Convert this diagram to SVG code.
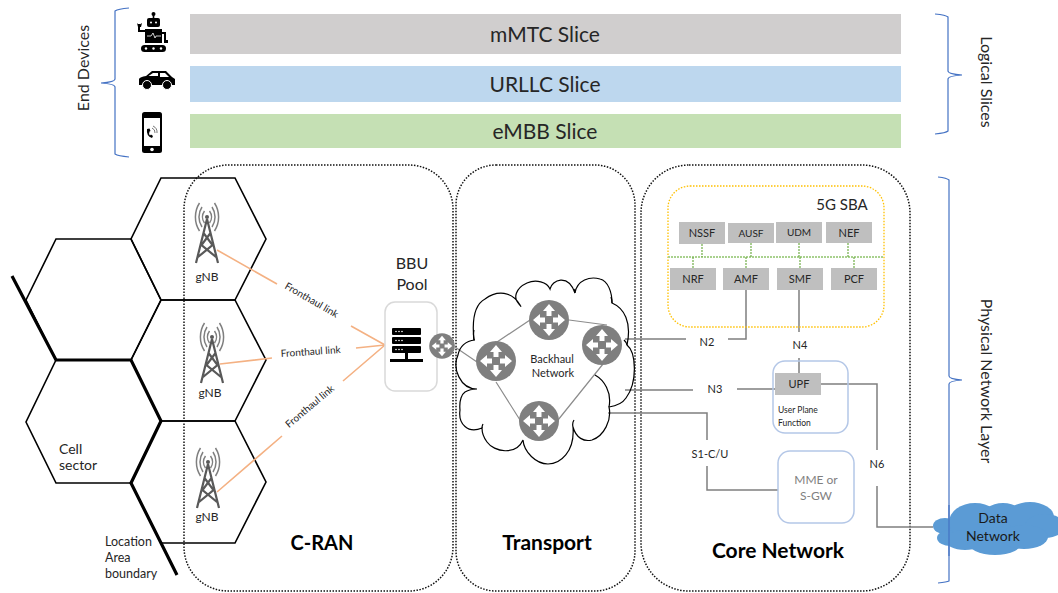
<svg xmlns="http://www.w3.org/2000/svg" width="1058" height="593" viewBox="0 0 1058 593">
<style>
text{font-family:Lato,"Open Sans","Liberation Sans",sans-serif;fill:#262626;text-anchor:middle}
.hex{fill:none;stroke:#000;stroke-width:1.600}
.pillar{fill:none;stroke:#111;stroke-width:1.500;stroke-dasharray:1.500 1.500}
.brace{fill:none;stroke:#4472C4;stroke-width:1.200}
.link{fill:none;stroke:#7f7f7f;stroke-width:1.500}
.thin{fill:none;stroke:#8c8c8c;stroke-width:1.200}
.fh{fill:none;stroke:#F4B183;stroke-width:1.600}
.bus{fill:none;stroke:#70AD47;stroke-width:1.200;stroke-dasharray:2 1}
.nf{fill:#BFBFBF}
.s11{font-size:11px}.s12{font-size:12px}.s14{font-size:14px}.s16{font-size:16px}.s21{font-size:21px}
.b{font-weight:700;fill:#000;font-size:21px}
.ant{fill:none;stroke:#7f7f7f;stroke-width:1.500}
.cell{text-anchor:start;font-size:12.500px}
</style>
<defs>
<g id="router">
<circle r="20" fill="#7f7f7f"/>
<path fill="#fff" d="M0-16 6-9H2.500V-4H-2.500V-9H-6ZM0 16 6 9H2.500V4H-2.500V9H-6ZM-16 0-9-6V-2.500H-4V2.500H-9V6ZM16 0 9-6V-2.500H4V2.500H9V6Z"/>
</g>
<g id="tower">
<circle cx="0" cy="0" r="2" fill="#595959"/>
<path class="ant" d="M-2.500-6A10 10 0 0 0-2.500 6M2.500-6A10 10 0 0 1 2.500 6M-5-10A18 18 0 0 0-5 10M5-10A18 18 0 0 1 5 10M-7.500-14A26 26 0 0 0-7.500 14M7.500-14A26 26 0 0 1 7.500 14"/>
<path fill="none" stroke="#595959" stroke-width="2.200" d="M0 2-11 46M0 2 11 46M-3.500 16 5.500 28-9 40M3.500 16-5.500 28 9 40"/>
</g>
</defs>

<g id="slices">
<g id="mmtc"><rect x="190" y="14" width="711" height="40" fill="#D0CECE"/><text class="s21" x="545" y="42">mMTC Slice</text></g>
<g id="urllc"><rect x="190" y="66" width="711" height="36" fill="#BDD7EE"/><text class="s21" x="545" y="92">URLLC Slice</text></g>
<g id="embb"><rect x="190" y="114" width="711" height="34" fill="#C5E0B4"/><text class="s21" x="545" y="139">eMBB Slice</text></g>
</g>

<g id="end-devices">
<path class="brace" d="M129 8Q118 9 115 11V79Q115 82 101 83Q115 84 115 87V154Q118 156 129 157"/>
<text class="s16" transform="translate(89 68) rotate(-90)">End Devices</text>
<g id="robot" fill="#000">
<circle cx="153.500" cy="14" r="2"/><rect x="152.700" y="14" width="1.600" height="5"/>
<rect x="147" y="18" width="13" height="9" rx="2"/>
<rect x="145" y="29" width="17" height="14"/>
<path d="M138 24h2v6h5v2h-7z"/><path d="M137 23l2 2 3-2-1 4h-3z"/>
<path d="M162 32h4v8h2v3h-4v-3h0v-6h-2z"/>
<rect x="141" y="45" width="25" height="7" rx="3.500"/>
<g fill="#fff"><circle cx="151" cy="22.500" r="1"/><circle cx="156" cy="22.500" r="1"/><circle cx="146" cy="48.500" r="1.200"/><circle cx="153.500" cy="48.500" r="1.200"/><circle cx="161" cy="48.500" r="1.200"/></g>
<path d="M147 36h4l2-3 2 5 1-2h5" fill="none" stroke="#fff" stroke-width=".8"/>
</g>
<g id="car">
<path fill="#000" d="M139 85V79Q140 77 146 76L152 71H166L172 77 175 79V85Z"/>
<path fill="#fff" d="M148.500 76 153 73H158V76ZM160 73H165L169 77H160Z"/>
<circle cx="147" cy="85" r="4.500" fill="#000" stroke="#fff" stroke-width="1"/><circle cx="167" cy="85" r="4.500" fill="#000" stroke="#fff" stroke-width="1"/>
</g>
<g id="phone">
<rect x="142" y="112" width="20" height="41" rx="2.500" fill="#000"/>
<rect x="144" y="118" width="16" height="28" fill="#fff"/>
<circle cx="152" cy="149.500" r="1.800" fill="#fff"/>
<path d="M147 129Q146 136 152 138L153 136 151 134.500 150 135.500Q148.500 133.500 149.500 131.500L150.500 131 149.500 128.500Z" fill="#000"/>
<path d="M152 128A5 5 0 0 1 155 133M153 126A7 7 0 0 1 157 133" fill="none" stroke="#555" stroke-width=".8"/>
</g>
</g>

<g id="logical-slices">
<path class="brace" d="M935 14Q946 15 948 17V71Q948 74 962 75Q948 76 948 79V131Q946 133 935 134"/>
<text class="s16" transform="translate(981 82) rotate(90)">Logical Slices</text>
</g>
<g id="physical-layer">
<path class="brace" d="M938 177Q947 178 949 180V376Q949 379 962 380Q949 381 949 384V581Q947 582 938 583"/>
<text class="s16" transform="translate(981 381) rotate(90)">Physical Network Layer</text>
</g>

<g id="cells">
<path class="hex" d="M161 178H235L266 239 235 300H161L131 239Z"/>
<path class="hex" d="M56 239H131L161 300 131 360H56L26 300Z"/>
<path class="hex" d="M161 300H235L266 360 235 421H161L131 360Z"/>
<path class="hex" d="M56 360H131L161 421 131 483H56L26 422Z"/>
<path class="hex" d="M161 421H235L266 482 235 543H161L131 483Z"/>
<path fill="none" stroke="#000" stroke-width="3.200" d="M12 276 56 360H131L161 421 131 483 177 575"/>
<text class="s14" x="59" y="454" style="text-anchor:start">Cell</text>
<text class="s14" x="59" y="470" style="text-anchor:start">sector</text>
<text class="cell" x="105" y="546">Location</text>
<text class="cell" x="105" y="562">Area</text>
<text class="cell" x="105" y="578">boundary</text>
</g>

<g id="pillars">
<rect id="cran-box" class="pillar" x="184" y="165" width="269" height="426" rx="44"/>
<rect id="transport-box" class="pillar" x="456" y="165" width="179" height="426" rx="40"/>
<rect id="core-box" class="pillar" x="641" y="165" width="269" height="426" rx="48"/>
<text class="b" x="322" y="550" style="font-size:20px">C-RAN</text>
<text class="b" x="547" y="550">Transport</text>
<text class="b" x="778" y="558">Core Network</text>
</g>

<g id="connectors">
<path class="fh" d="M217 250 277 284M351 326 385 345M220 364 272 358M356 348 385 345M217 492 282 436M343 381 385 345"/>
<path class="thin" d="M455 347 477 362M497 342 530 320M569 320 607 325M496 382 520 420M558 420 603 364"/>
<path class="link" d="M625 339H686M728 339H746V290"/>
<path class="link" d="M799 290V332M799 358V373"/>
<path class="link" d="M625 390H693M737 389H775"/>
<path class="link" d="M608 413H707V440M707 466V490H778"/>
<path class="link" d="M821 384H877V450M877 486V527H933"/>
</g>

<g id="fh-labels">
<text transform="translate(310 303) rotate(30)" style="font-size:10px">Fronthaul link</text>
<text transform="translate(311 355) rotate(-4)" style="font-size:10px">Fronthaul link</text>
<text transform="translate(312 409) rotate(-40)" style="font-size:10px">Fronthaul link</text>
</g>

<g id="gnb-1"><use href="#tower" x="207" y="217"/><text class="s12" x="207" y="281">gNB</text></g>
<g id="gnb-2"><use href="#tower" x="212" y="337"/><text class="s12" x="210" y="397">gNB</text></g>
<g id="gnb-3"><use href="#tower" x="208" y="462"/><text class="s12" x="207" y="521">gNB</text></g>

<g id="bbu-pool">
<text class="s16" x="412" y="269">BBU</text>
<text class="s16" x="412" y="290">Pool</text>
<rect x="385" y="302" width="52" height="89" rx="10" fill="#fff" stroke="#D9D9D9" stroke-width="1.500"/>
<g fill="#000">
<rect x="392" y="328" width="29" height="7" rx="1"/><rect x="392" y="337" width="29" height="7" rx="1"/><rect x="392" y="346" width="29" height="7" rx="1"/>
<rect x="405" y="353" width="3" height="6"/><rect x="390" y="359" width="33" height="3"/>
</g>
<g fill="#fff"><circle cx="396" cy="331.500" r=".8"/><circle cx="399" cy="331.500" r=".8"/><circle cx="402" cy="331.500" r=".8"/><circle cx="396" cy="340.500" r=".8"/><circle cx="399" cy="340.500" r=".8"/><circle cx="402" cy="340.500" r=".8"/><circle cx="396" cy="349.500" r=".8"/><circle cx="399" cy="349.500" r=".8"/><circle cx="402" cy="349.500" r=".8"/></g>
</g>
<g id="bbu-router"><use href="#router" transform="translate(442 346) scale(.64)"/></g>

<g id="backhaul-cloud">
<path fill="none" stroke="#000" stroke-width="1.200" d="M474 340C472 322 474 305 485 299C497 290 512 291 520 305C512 298 516 288 527 283C536 279 547 282 550 289C552 280 568 273 575 293C577 280 590 276 600 279C608 281 612 292 612 303C624 308 632 322 627 345C636 352 638 382 626 398C622 404 616 406 609 407C612 420 604 436 592 440C584 442 576 438 573 427C575 452 560 464 548 464C536 464 524 452 523 440C516 456 494 452 487 442C484 438 482 433 482 428C468 434 458 424 460 410C459 400 462 394 465 392C470 389 474 389 477 389C460 389 452 368 458 355C460 345 466 341 475 340"/>
<path fill="none" stroke="#000" stroke-width="1.200" d="M595 375C604 380 612 392 609 407M573 427Q572 423 574 420M474 340Q473 334 474 330M520 305Q522 308 519 304M575 293Q574 291 575 289M612 303Q612 300 611 297M627 345Q627 343 624 340M482 428Q482 426 483 424"/>
<use href="#router" x="496" y="361"/>
<use href="#router" x="549" y="320"/>
<use href="#router" x="602" y="345"/>
<use href="#router" x="539" y="421"/>
<text class="s11" x="552" y="363">Backhaul</text>
<text class="s11" x="553" y="377">Network</text>
</g>

<g id="sba">
<rect x="668" y="186" width="216" height="141" rx="22" fill="none" stroke="#FFC000" stroke-width="1.300" stroke-dasharray="1.500 1.500"/>
<text x="842" y="210" style="font-size:15px">5G SBA</text>
<path d="M668 257H884" fill="none" stroke="#A9D18E" stroke-width="1.800" stroke-dasharray="2 1"/>
<path class="bus" d="M702 244V257M751 243V257M799 243V257M848 243V257M693 257V268M746 257V268M800 257V268M854 257V268"/>
<g id="nssf"><rect class="nf" x="679" y="222" width="46" height="22"/><text class="s11" x="702" y="237">NSSF</text></g>
<g id="ausf"><rect class="nf" x="728" y="223" width="46" height="20"/><text x="751" y="237" style="font-size:10px">AUSF</text></g>
<g id="udm"><rect class="nf" x="776" y="222" width="46" height="21"/><text x="799" y="236" style="font-size:10px">UDM</text></g>
<g id="nef"><rect class="nf" x="826" y="222" width="46" height="21"/><text class="s11" x="849" y="237">NEF</text></g>
<g id="nrf"><rect class="nf" x="670" y="268" width="46" height="22"/><text class="s11" x="693" y="283">NRF</text></g>
<g id="amf"><rect class="nf" x="723" y="268" width="46" height="22"/><text class="s11" x="746" y="283">AMF</text></g>
<g id="smf"><rect class="nf" x="777" y="268" width="46" height="22"/><text class="s11" x="800" y="283">SMF</text></g>
<g id="pcf"><rect class="nf" x="831" y="268" width="46" height="22"/><text class="s11" x="854" y="283">PCF</text></g>
</g>

<g id="link-labels">
<text class="s11" x="707" y="346">N2</text>
<text class="s11" x="800" y="349">N4</text>
<text class="s11" x="715" y="393">N3</text>
<text class="s11" x="710" y="458">S1-C/U</text>
<text class="s11" x="877" y="468">N6</text>
</g>

<g id="upf">
<rect x="773" y="361" width="75" height="72" rx="12" fill="none" stroke="#B4C7E7" stroke-width="1.500"/>
<rect class="nf" x="775" y="373" width="46" height="22"/>
<text class="s11" x="799" y="388">UPF</text>
<text x="778" y="413" style="font-size:8.500px;text-anchor:start">User Plane</text>
<text x="778" y="426" style="font-size:8.500px;text-anchor:start">Function</text>
</g>

<g id="mme">
<rect x="778" y="451" width="76" height="72" rx="12" fill="none" stroke="#B4C7E7" stroke-width="1.500"/>
<text class="s12" x="816" y="484" style="fill:#7f7f7f">MME or</text>
<text class="s12" x="816" y="500" style="fill:#7f7f7f">S-GW</text>
</g>

<g id="data-network">
<g fill="#5B9BD5">
<ellipse cx="945" cy="526" rx="12" ry="8"/><ellipse cx="951" cy="538" rx="14" ry="8"/>
<ellipse cx="975" cy="522" rx="26" ry="19"/><ellipse cx="1003" cy="518" rx="22" ry="15"/>
<ellipse cx="1030" cy="517" rx="24" ry="15"/><ellipse cx="1045" cy="526" rx="20" ry="12"/>
<ellipse cx="965" cy="540" rx="20" ry="10"/><ellipse cx="995" cy="541" rx="28" ry="14"/><ellipse cx="1024" cy="537" rx="24" ry="12"/>
</g>
<path fill="none" stroke="#4472C4" stroke-width="1.200" d="M949 505V556"/>
<text class="s14" x="993" y="523" style="fill:#1a1a1a">Data</text>
<text class="s14" x="993" y="541" style="fill:#1a1a1a">Network</text>
</g>
</svg>
